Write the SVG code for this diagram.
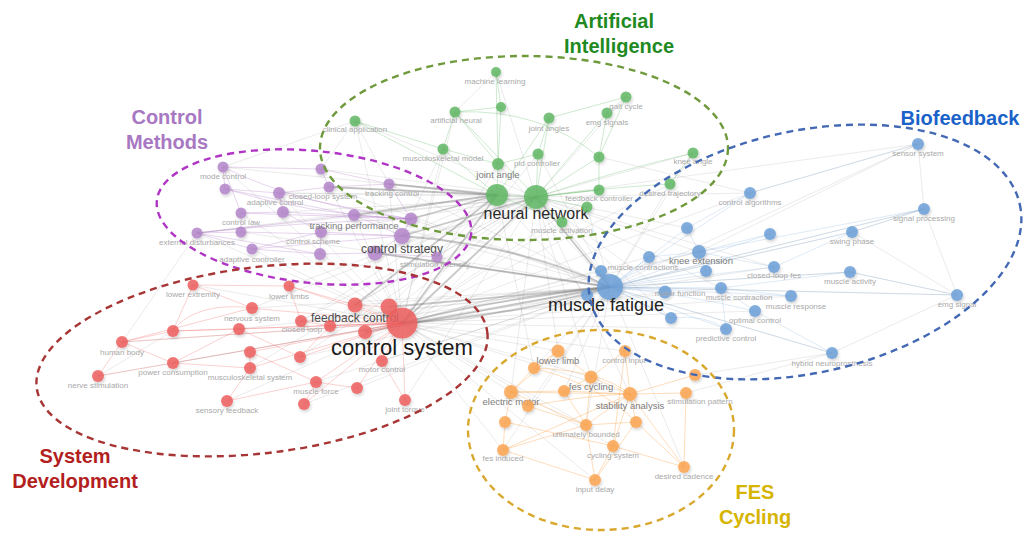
<svg xmlns="http://www.w3.org/2000/svg" width="1023" height="558" viewBox="0 0 1023 558">
<style>
  text { font-family: "Liberation Sans", Arial, sans-serif; text-anchor: middle; }
  .lb { font-size: 8px; fill: #a9a9a9; }
  .lm { font-size: 9.5px; fill: #7c7c7c; }
  .lc { font-size: 12px; fill: #4d4d4d; }
  .ct { font-size: 20px; font-weight: bold; }
  .e line, .e path { stroke: #8a8a8a; stroke-opacity: 0.17; stroke-width: 1; fill: none; }
  .es line, .es path { stroke: #6e6e6e; stroke-opacity: 0.38; stroke-width: 1.8; fill: none; }
  .cg line, .cg path { stroke: #66bb6a; stroke-opacity: 0.32; stroke-width: 1; fill: none; }
  .cp line, .cp path { stroke: #b07cc7; stroke-opacity: 0.32; stroke-width: 1; fill: none; }
  .cr line, .cr path { stroke: #ef5b5b; stroke-opacity: 0.28; stroke-width: 1; fill: none; }
  .cb line, .cb path { stroke: #6fa0d8; stroke-opacity: 0.22; stroke-width: 1; fill: none; }
  .co line, .co path { stroke: #fca54f; stroke-opacity: 0.38; stroke-width: 1; fill: none; }
  .ng { fill: #5fb763; }
  .np { fill: #b384c9; }
  .nr { fill: #ee5e5e; }
  .nb { fill: #6a9fd8; }
  .no { fill: #fca54f; }
  .node circle { fill-opacity: 0.84; filter: url(#sh); }
  .ring { fill: none; stroke-width: 2.4; stroke-dasharray: 7 5; }
</style>
<defs>
  <filter id="sh" x="-60%" y="-60%" width="220%" height="220%">
    <feDropShadow dx="1" dy="2" stdDeviation="1.6" flood-color="#000" flood-opacity="0.2"/>
  </filter>
</defs>
<rect width="1023" height="558" fill="#ffffff"/>

<g id="connectors">
  <!-- faint cross-cluster mesh -->
  <g class="e">
    <line x1="402" y1="323" x2="498" y2="164"/><line x1="402" y1="323" x2="455" y2="112"/>
    <line x1="402" y1="323" x2="538" y2="154"/><line x1="402" y1="323" x2="599" y2="190"/>
    <line x1="402" y1="323" x2="670" y2="184"/><line x1="402" y1="323" x2="699" y2="252"/>
    <line x1="402" y1="323" x2="601" y2="271"/><line x1="402" y1="323" x2="665" y2="292"/>
    <line x1="402" y1="323" x2="721" y2="288"/><line x1="402" y1="323" x2="726" y2="329"/>
    <line x1="402" y1="323" x2="750" y2="193"/><line x1="402" y1="323" x2="755" y2="311"/>
    <line x1="402" y1="323" x2="558" y2="351"/><line x1="402" y1="323" x2="591" y2="377"/>
    <line x1="402" y1="323" x2="511" y2="392"/><line x1="402" y1="323" x2="630" y2="394"/>
    <line x1="402" y1="323" x2="586" y2="425"/><line x1="402" y1="323" x2="613" y2="446"/>
    <line x1="402" y1="323" x2="625" y2="351"/><line x1="402" y1="323" x2="389" y2="184"/>
    <line x1="402" y1="323" x2="354" y2="215"/><line x1="402" y1="323" x2="279" y2="193"/>
    <line x1="402" y1="323" x2="329" y2="187"/><line x1="402" y1="323" x2="562" y2="222"/>
    <line x1="402" y1="323" x2="443" y2="149"/><line x1="402" y1="323" x2="649" y2="257"/>
    <line x1="402" y1="323" x2="774" y2="267"/><line x1="402" y1="323" x2="791" y2="296"/>
    <line x1="536" y1="197" x2="601" y2="271"/><line x1="536" y1="197" x2="699" y2="252"/>
    <line x1="536" y1="197" x2="687" y2="228"/><line x1="536" y1="197" x2="750" y2="193"/>
    <line x1="536" y1="197" x2="375" y2="253"/><line x1="536" y1="197" x2="354" y2="215"/>
    <line x1="536" y1="197" x2="389" y2="184"/><line x1="536" y1="197" x2="329" y2="187"/>
    <line x1="536" y1="197" x2="279" y2="193"/><line x1="536" y1="197" x2="355" y2="305"/>
    <line x1="536" y1="197" x2="301" y2="321"/><line x1="536" y1="197" x2="382" y2="361"/>
    <line x1="536" y1="197" x2="365" y2="332"/><line x1="536" y1="197" x2="558" y2="351"/>
    <line x1="536" y1="197" x2="591" y2="377"/><line x1="536" y1="197" x2="511" y2="392"/>
    <line x1="536" y1="197" x2="630" y2="394"/><line x1="536" y1="197" x2="671" y2="318"/>
    <line x1="536" y1="197" x2="665" y2="292"/><line x1="536" y1="197" x2="289" y2="286"/>
    <line x1="536" y1="197" x2="321" y2="232"/><line x1="536" y1="197" x2="300" y2="357"/>
    <line x1="536" y1="197" x2="721" y2="288"/><line x1="536" y1="197" x2="774" y2="267"/>
    <line x1="536" y1="197" x2="197" y2="233"/><line x1="536" y1="197" x2="252" y2="308"/>
    <line x1="610" y1="287" x2="375" y2="253"/><line x1="610" y1="287" x2="411" y2="219"/>
    <line x1="610" y1="287" x2="354" y2="215"/><line x1="610" y1="287" x2="355" y2="305"/>
    <line x1="610" y1="287" x2="301" y2="321"/><line x1="610" y1="287" x2="330" y2="326"/>
    <line x1="610" y1="287" x2="252" y2="308"/><line x1="610" y1="287" x2="239" y2="329"/>
    <line x1="610" y1="287" x2="534" y2="368"/><line x1="610" y1="287" x2="564" y2="391"/>
    <line x1="610" y1="287" x2="586" y2="425"/><line x1="610" y1="287" x2="528" y2="406"/>
    <line x1="610" y1="287" x2="498" y2="164"/><line x1="610" y1="287" x2="538" y2="154"/>
    <line x1="610" y1="287" x2="587" y2="207"/><line x1="610" y1="287" x2="562" y2="222"/>
    <line x1="610" y1="287" x2="670" y2="184"/><line x1="610" y1="287" x2="437" y2="257"/>
    <line x1="610" y1="287" x2="389" y2="184"/><line x1="610" y1="287" x2="357" y2="388"/>
    <line x1="610" y1="287" x2="918" y2="144"/><line x1="610" y1="287" x2="924" y2="209"/>
    <line x1="610" y1="287" x2="957" y2="295"/><line x1="610" y1="287" x2="832" y2="353"/>
    <line x1="610" y1="287" x2="329" y2="187"/><line x1="610" y1="287" x2="382" y2="361"/>
    <line x1="497" y1="195" x2="402" y2="236"/><line x1="497" y1="195" x2="389" y2="307"/>
    <line x1="497" y1="195" x2="279" y2="193"/><line x1="497" y1="195" x2="197" y2="233"/>
    <line x1="497" y1="195" x2="534" y2="368"/><line x1="497" y1="195" x2="587" y2="295"/>
    <line x1="497" y1="195" x2="223" y2="167"/><line x1="497" y1="195" x2="301" y2="321"/>
    <line x1="918" y1="144" x2="536" y2="197"/><line x1="918" y1="144" x2="750" y2="193"/>
    <line x1="924" y1="209" x2="852" y2="232"/><line x1="924" y1="209" x2="957" y2="295"/>
    <line x1="957" y1="295" x2="850" y2="272"/><line x1="957" y1="295" x2="852" y2="232"/>
    <line x1="918" y1="144" x2="924" y2="209"/><line x1="957" y1="295" x2="832" y2="353"/>
    <line x1="852" y1="232" x2="610" y2="287"/><line x1="850" y1="272" x2="610" y2="287"/>
    <line x1="832" y1="353" x2="695" y2="375"/><line x1="832" y1="353" x2="686" y2="393"/>
    <line x1="122" y1="342" x2="402" y2="323"/><line x1="98" y1="376" x2="402" y2="323"/>
    <line x1="193" y1="285" x2="402" y2="323"/><line x1="227" y1="401" x2="402" y2="323"/>
    <line x1="122" y1="342" x2="197" y2="233"/><line x1="98" y1="376" x2="173" y2="331"/>
    <line x1="355" y1="121" x2="321" y2="169"/><line x1="355" y1="121" x2="389" y2="184"/>
    <line x1="355" y1="121" x2="536" y2="197"/><line x1="496" y1="72" x2="536" y2="197"/>
    <line x1="496" y1="72" x2="455" y2="112"/><line x1="626" y1="97" x2="536" y2="197"/>
    <line x1="626" y1="97" x2="607" y2="113"/><line x1="693" y1="153" x2="610" y2="287"/>
    <line x1="693" y1="153" x2="670" y2="184"/><line x1="693" y1="153" x2="536" y2="197"/>
    <line x1="684" y1="467" x2="610" y2="287"/><line x1="595" y1="480" x2="402" y2="323"/>
    <line x1="503" y1="450" x2="402" y2="323"/><line x1="503" y1="450" x2="610" y2="287"/>
    <line x1="197" y1="233" x2="402" y2="323"/><line x1="223" y1="167" x2="402" y2="323"/>
    <line x1="241" y1="213" x2="402" y2="323"/><line x1="252" y1="249" x2="402" y2="323"/>
    <line x1="241" y1="232" x2="610" y2="287"/><line x1="283" y1="212" x2="536" y2="197"/>
    <line x1="321" y1="169" x2="536" y2="197"/><line x1="443" y1="149" x2="402" y2="236"/>
    <line x1="355" y1="121" x2="402" y2="323"/><line x1="304" y1="404" x2="610" y2="287"/>
    <line x1="405" y1="400" x2="536" y2="197"/><line x1="316" y1="382" x2="610" y2="287"/>
    <line x1="173" y1="363" x2="610" y2="287"/><line x1="250" y1="368" x2="536" y2="197"/>
    <line x1="300" y1="357" x2="610" y2="287"/><line x1="918" y1="144" x2="699" y2="252"/>
    <line x1="355" y1="121" x2="223" y2="167"/><line x1="599" y1="157" x2="750" y2="193"/>
  </g>
  <!-- heavier grey links between the hubs -->
  <g class="es">
    <path d="M402,323 Q500,298 610,287" stroke-width="2.6"/>
    <path d="M402,323 Q505,318 610,287" stroke-width="1.5"/>
    <line x1="402" y1="323" x2="536" y2="197" stroke-width="2"/>
    <line x1="389" y1="307" x2="610" y2="287"/>
    <line x1="355" y1="305" x2="497" y2="195"/>
    <path d="M402,236 Q520,245 610,287" stroke-width="2.2"/>
    <line x1="411" y1="219" x2="497" y2="195" stroke-width="2.2"/>
    <line x1="375" y1="253" x2="610" y2="287"/>
    <line x1="402" y1="236" x2="536" y2="197"/>
    <line x1="402" y1="323" x2="497" y2="195"/>
    <line x1="536" y1="197" x2="610" y2="287"/>
    <line x1="354" y1="215" x2="497" y2="195"/>
    <line x1="365" y1="332" x2="610" y2="287"/>
    <line x1="389" y1="184" x2="497" y2="195" stroke-width="1.2"/>
    <line x1="329" y1="187" x2="497" y2="195" stroke-width="1.2"/>
  </g>
  <!-- green cluster links -->
  <g class="cg">
    <line x1="496" y1="72" x2="501" y2="107"/><line x1="455" y1="112" x2="501" y2="107"/>
    <line x1="455" y1="112" x2="443" y2="149"/><line x1="501" y1="107" x2="498" y2="164"/>
    <line x1="355" y1="121" x2="443" y2="149"/><line x1="355" y1="121" x2="497" y2="195"/>
    <line x1="443" y1="149" x2="497" y2="195"/><line x1="443" y1="149" x2="498" y2="164"/>
    <line x1="498" y1="164" x2="538" y2="154"/><line x1="549" y1="118" x2="538" y2="154"/>
    <line x1="549" y1="118" x2="536" y2="197"/><line x1="607" y1="113" x2="599" y2="157"/>
    <line x1="626" y1="97" x2="599" y2="157"/><line x1="607" y1="113" x2="536" y2="197"/>
    <line x1="538" y1="154" x2="536" y2="197"/><line x1="599" y1="157" x2="536" y2="197"/>
    <line x1="599" y1="157" x2="599" y2="190"/><line x1="693" y1="153" x2="670" y2="184"/>
    <line x1="599" y1="190" x2="536" y2="197"/><line x1="587" y1="207" x2="536" y2="197"/>
    <line x1="562" y1="222" x2="536" y2="197"/><line x1="562" y1="222" x2="497" y2="195"/>
    <line x1="549" y1="118" x2="497" y2="195"/><line x1="496" y1="72" x2="498" y2="164"/>
    <line x1="626" y1="97" x2="549" y2="118"/><line x1="455" y1="112" x2="536" y2="197"/>
    <path d="M455,112 Q540,108 599,157" stroke-width="1.8" stroke-opacity="0.5"/>
    <path d="M536,197 Q620,170 693,153" stroke-width="1.3" stroke-opacity="0.45"/>
    <path d="M455,112 L498,164 L497,195" stroke-width="5" stroke-opacity="0.55"/>
    <line x1="497" y1="195" x2="536" y2="197" stroke-width="4" stroke-opacity="0.6"/>
    <path d="M536,197 Q600,188 670,184" stroke-width="2.4" stroke-opacity="0.55"/>
    <line x1="536" y1="197" x2="599" y2="190" stroke-width="2" stroke-opacity="0.5"/>
  </g>
  <!-- purple cluster links -->
  <g class="cp">
    <line x1="223" y1="167" x2="225" y2="189"/><line x1="223" y1="167" x2="321" y2="169"/>
    <line x1="223" y1="167" x2="241" y2="213"/><line x1="225" y1="189" x2="279" y2="193"/>
    <line x1="279" y1="193" x2="329" y2="187"/><line x1="279" y1="193" x2="283" y2="212"/>
    <line x1="321" y1="169" x2="329" y2="187"/><line x1="321" y1="169" x2="389" y2="184"/>
    <line x1="329" y1="187" x2="389" y2="184"/><line x1="283" y1="212" x2="241" y2="213"/>
    <line x1="283" y1="212" x2="321" y2="232"/><line x1="241" y1="213" x2="241" y2="232"/>
    <line x1="241" y1="232" x2="197" y2="233"/><line x1="197" y1="233" x2="252" y2="249"/>
    <line x1="252" y1="249" x2="321" y2="232"/><line x1="252" y1="249" x2="402" y2="236"/>
    <line x1="321" y1="232" x2="320" y2="254"/><line x1="321" y1="232" x2="402" y2="236"/>
    <line x1="320" y1="254" x2="375" y2="253"/><line x1="389" y1="184" x2="411" y2="219"/>
    <line x1="354" y1="215" x2="402" y2="236"/><line x1="411" y1="219" x2="402" y2="236"/>
    <line x1="402" y1="236" x2="375" y2="253"/><line x1="375" y1="253" x2="437" y2="257"/>
    <line x1="241" y1="232" x2="402" y2="236"/><line x1="225" y1="189" x2="354" y2="215"/>
    <line x1="241" y1="213" x2="411" y2="219"/><line x1="283" y1="212" x2="411" y2="219"/>
    <line x1="252" y1="249" x2="320" y2="254"/><line x1="197" y1="233" x2="320" y2="254"/>
    <path d="M223,167 Q300,205 411,219" stroke-width="3" stroke-opacity="0.5"/>
    <path d="M225,189 Q310,215 411,219" stroke-width="2.4" stroke-opacity="0.5"/>
    <path d="M279,193 Q345,208 411,219" stroke-width="2" stroke-opacity="0.45"/>
    <path d="M197,233 Q300,222 411,219" stroke-width="1.8" stroke-opacity="0.45"/>
    <line x1="197" y1="233" x2="354" y2="215" stroke-width="1.4" stroke-opacity="0.45"/>
    <line x1="354" y1="215" x2="411" y2="219" stroke-width="2.5" stroke-opacity="0.5"/>
  </g>
  <!-- red cluster links -->
  <g class="cr">
    <line x1="193" y1="285" x2="252" y2="308"/><line x1="193" y1="285" x2="173" y2="331"/>
    <line x1="289" y1="286" x2="402" y2="323"/><line x1="289" y1="286" x2="301" y2="321"/>
    <line x1="301" y1="321" x2="402" y2="323"/><line x1="122" y1="342" x2="173" y2="331"/>
    <line x1="122" y1="342" x2="252" y2="308"/><line x1="122" y1="342" x2="173" y2="363"/>
    <line x1="250" y1="352" x2="402" y2="323"/><line x1="300" y1="357" x2="402" y2="323"/>
    <line x1="173" y1="363" x2="402" y2="323"/><line x1="250" y1="368" x2="402" y2="323"/>
    <line x1="98" y1="376" x2="122" y2="342"/><line x1="98" y1="376" x2="173" y2="363"/>
    <line x1="227" y1="401" x2="250" y2="368"/><line x1="227" y1="401" x2="316" y2="382"/>
    <line x1="355" y1="305" x2="402" y2="323"/><line x1="389" y1="307" x2="402" y2="323"/>
    <line x1="330" y1="326" x2="402" y2="323"/><line x1="365" y1="332" x2="402" y2="323"/>
    <line x1="382" y1="361" x2="402" y2="323"/><line x1="316" y1="382" x2="402" y2="323"/>
    <line x1="357" y1="388" x2="402" y2="323"/><line x1="304" y1="404" x2="316" y2="382"/>
    <line x1="405" y1="400" x2="402" y2="323"/><line x1="173" y1="331" x2="239" y2="329"/>
    <line x1="250" y1="352" x2="250" y2="368"/><line x1="300" y1="357" x2="330" y2="326"/>
    <line x1="316" y1="382" x2="357" y2="388"/><line x1="301" y1="321" x2="330" y2="326"/>
    <line x1="173" y1="363" x2="250" y2="368"/><line x1="122" y1="342" x2="402" y2="323"/>
    <line x1="304" y1="404" x2="402" y2="323"/><line x1="405" y1="400" x2="382" y2="361"/>
    <line x1="173" y1="331" x2="402" y2="323"/><line x1="289" y1="286" x2="355" y2="305"/>
    <line x1="193" y1="285" x2="289" y2="286"/><line x1="239" y1="329" x2="300" y2="357"/>
    <line x1="250" y1="352" x2="316" y2="382"/><line x1="173" y1="363" x2="239" y2="329"/>
    <path d="M173,331 C188,309 222,304 252,308 S360,316 402,323" stroke-width="3.2" stroke-opacity="0.5"/>
    <line x1="239" y1="329" x2="402" y2="323" stroke-width="2.2" stroke-opacity="0.5"/>
    <line x1="355" y1="305" x2="389" y2="307" stroke-width="2" stroke-opacity="0.5"/>
  </g>
  <!-- blue cluster links -->
  <g class="cb">
    <line x1="918" y1="144" x2="750" y2="193"/><line x1="924" y1="209" x2="610" y2="287"/>
    <line x1="750" y1="193" x2="687" y2="228"/><line x1="750" y1="193" x2="610" y2="287"/>
    <line x1="687" y1="228" x2="699" y2="252"/><line x1="687" y1="228" x2="610" y2="287"/>
    <line x1="770" y1="234" x2="610" y2="287"/><line x1="770" y1="234" x2="699" y2="252"/>
    <line x1="852" y1="232" x2="610" y2="287"/><line x1="852" y1="232" x2="774" y2="267"/>
    <line x1="699" y1="252" x2="649" y2="257"/><line x1="699" y1="252" x2="706" y2="271"/>
    <line x1="649" y1="257" x2="610" y2="287"/><line x1="601" y1="271" x2="610" y2="287"/>
    <line x1="706" y1="271" x2="610" y2="287"/><line x1="774" y1="267" x2="699" y2="252"/>
    <line x1="850" y1="272" x2="610" y2="287"/><line x1="850" y1="272" x2="721" y2="288"/>
    <line x1="587" y1="295" x2="610" y2="287"/><line x1="665" y1="292" x2="610" y2="287"/>
    <line x1="791" y1="296" x2="610" y2="287"/><line x1="791" y1="296" x2="721" y2="288"/>
    <line x1="957" y1="295" x2="610" y2="287"/><line x1="957" y1="295" x2="850" y2="272"/>
    <line x1="755" y1="311" x2="721" y2="288"/><line x1="671" y1="318" x2="610" y2="287"/>
    <line x1="726" y1="329" x2="610" y2="287"/><line x1="832" y1="353" x2="610" y2="287"/>
    <line x1="832" y1="353" x2="755" y2="311"/><line x1="726" y1="329" x2="721" y2="288"/>
    <line x1="924" y1="209" x2="852" y2="232"/><line x1="924" y1="209" x2="699" y2="252"/>
    <path d="M610,287 Q650,260 699,252" stroke-width="2.6" stroke-opacity="0.55"/>
    <path d="M671,318 Q705,314 726,329" stroke-width="3" stroke-opacity="0.6"/>
    <line x1="610" y1="287" x2="721" y2="288" stroke-width="2" stroke-opacity="0.5"/>
    <path d="M610,287 Q690,295 755,311" stroke-width="1.5" stroke-opacity="0.45"/>
    <line x1="610" y1="287" x2="774" y2="267" stroke-width="1.5" stroke-opacity="0.4"/>
    <line x1="610" y1="287" x2="671" y2="318" stroke-width="1.5" stroke-opacity="0.4"/>
  </g>
  <!-- orange cluster links -->
  <g class="co">
    <line x1="558" y1="351" x2="534" y2="368"/><line x1="558" y1="351" x2="591" y2="377"/>
    <line x1="625" y1="351" x2="591" y2="377"/><line x1="625" y1="351" x2="630" y2="394"/>
    <line x1="534" y1="368" x2="511" y2="392"/><line x1="591" y1="377" x2="630" y2="394"/>
    <line x1="591" y1="377" x2="564" y2="391"/><line x1="511" y1="392" x2="564" y2="391"/>
    <line x1="511" y1="392" x2="528" y2="406"/><line x1="511" y1="392" x2="505" y2="422"/>
    <line x1="511" y1="392" x2="586" y2="425"/><line x1="564" y1="391" x2="630" y2="394"/>
    <line x1="564" y1="391" x2="586" y2="425"/><line x1="630" y1="394" x2="586" y2="425"/>
    <line x1="630" y1="394" x2="636" y2="422"/><line x1="630" y1="394" x2="613" y2="446"/>
    <line x1="630" y1="394" x2="684" y2="467"/><line x1="686" y1="393" x2="630" y2="394"/>
    <line x1="686" y1="393" x2="684" y2="467"/><line x1="695" y1="375" x2="630" y2="394"/>
    <line x1="528" y1="406" x2="586" y2="425"/><line x1="505" y1="422" x2="503" y2="450"/>
    <line x1="505" y1="422" x2="613" y2="446"/><line x1="586" y1="425" x2="636" y2="422"/>
    <line x1="586" y1="425" x2="595" y2="480"/><line x1="636" y1="422" x2="684" y2="467"/>
    <line x1="613" y1="446" x2="595" y2="480"/><line x1="503" y1="450" x2="595" y2="480"/>
    <line x1="503" y1="450" x2="586" y2="425"/><line x1="595" y1="480" x2="636" y2="422"/>
    <line x1="684" y1="467" x2="613" y2="446"/><line x1="558" y1="351" x2="511" y2="392"/>
    <line x1="503" y1="450" x2="630" y2="394"/><line x1="625" y1="351" x2="613" y2="446"/>
    <path d="M534,368 Q600,370 630,394" stroke-opacity="0.5"/>
    <path d="M534,368 Q600,385 636,422"/>
    <path d="M528,406 Q590,395 630,394"/>
    <line x1="511" y1="392" x2="630" y2="394" stroke-width="2.2" stroke-opacity="0.6"/>
    <line x1="591" y1="377" x2="586" y2="425" stroke-width="1.4" stroke-opacity="0.5"/>
  </g>
</g>

<!-- Artificial Intelligence keywords -->
<g id="n-machine-learning" class="node"><circle class="ng" cx="496" cy="72" r="5"/><text class="lb" x="495" y="84">machine learning</text></g>
<g id="n-artificial-neural" class="node"><circle class="ng" cx="455" cy="112" r="5.5"/><text class="lb" x="456" y="123">artificial neural</text></g>
<g id="n-g3" class="node"><circle class="ng" cx="501" cy="107" r="5"/></g>
<g id="n-clinical-application" class="node"><circle class="ng" cx="355" cy="121" r="5.5"/><text class="lb" x="355" y="132">clinical application</text></g>
<g id="n-musculoskeletal-model" class="node"><circle class="ng" cx="443" cy="149" r="5.5"/><text class="lb" x="443" y="161">musculoskeletal model</text></g>
<g id="n-joint-angle" class="node"><circle class="ng" cx="498" cy="164" r="6"/><text class="lm" x="498" y="178">joint angle</text></g>
<g id="n-joint-angles" class="node"><circle class="ng" cx="549" cy="118" r="5.5"/><text class="lb" x="549" y="131">joint angles</text></g>
<g id="n-emg-signals" class="node"><circle class="ng" cx="607" cy="113" r="5.5"/><text class="lb" x="607" y="125">emg signals</text></g>
<g id="n-gait-cycle" class="node"><circle class="ng" cx="626" cy="97" r="5.5"/><text class="lb" x="626" y="109">gait cycle</text></g>
<g id="n-pid-controller" class="node"><circle class="ng" cx="538" cy="154" r="5.5"/><text class="lb" x="537" y="166">pid controller</text></g>
<g id="n-g11" class="node"><circle class="ng" cx="599" cy="157" r="5.5"/></g>
<g id="n-knee-angle" class="node"><circle class="ng" cx="693" cy="153" r="5.5"/><text class="lb" x="693" y="164">knee angle</text></g>
<g id="n-desired-trajectory" class="node"><circle class="ng" cx="670" cy="184" r="5.5"/><text class="lb" x="670" y="196">desired trajectory</text></g>
<g id="n-feedback-controller" class="node"><circle class="ng" cx="599" cy="190" r="5.5"/><text class="lb" x="599" y="201">feedback controller</text></g>
<g id="n-g15" class="node"><circle class="ng" cx="497" cy="195" r="11"/></g>
<g id="n-neural-network" class="node"><circle class="ng" cx="536" cy="197" r="12"/><text x="536" y="219" font-size="16" fill="#2a2a2a">neural network</text></g>
<g id="n-g17" class="node"><circle class="ng" cx="587" cy="207" r="5.5"/></g>
<g id="n-muscle-activation" class="node"><circle class="ng" cx="562" cy="222" r="5.5"/><text class="lb" x="562" y="233">muscle activation</text></g>

<!-- Control Methods keywords -->
<g id="n-mode-control" class="node"><circle class="np" cx="223" cy="167" r="5.5"/><text class="lb" x="223" y="179">mode control</text></g>
<g id="n-p2" class="node"><circle class="np" cx="225" cy="189" r="5.5"/></g>
<g id="n-adaptive-control" class="node"><circle class="np" cx="279" cy="193" r="6"/><text class="lb" x="275" y="205">adaptive control</text></g>
<g id="n-p4" class="node"><circle class="np" cx="321" cy="169" r="5.5"/></g>
<g id="n-closed-loop-system" class="node"><circle class="np" cx="329" cy="187" r="5.5"/><text class="lb" x="323" y="199">closed-loop system</text></g>
<g id="n-p6" class="node"><circle class="np" cx="283" cy="212" r="6"/></g>
<g id="n-control-law" class="node"><circle class="np" cx="241" cy="213" r="5.5"/><text class="lb" x="241" y="225">control law</text></g>
<g id="n-p8" class="node"><circle class="np" cx="241" cy="232" r="5.5"/></g>
<g id="n-external-disturbances" class="node"><circle class="np" cx="197" cy="233" r="5.5"/><text class="lb" x="197" y="245">external disturbances</text></g>
<g id="n-adaptive-controller" class="node"><circle class="np" cx="252" cy="249" r="5.5"/><text class="lb" x="252" y="262">adaptive controller</text></g>
<g id="n-control-scheme" class="node"><circle class="np" cx="321" cy="232" r="6"/><text class="lb" x="313" y="244">control scheme</text></g>
<g id="n-p12" class="node"><circle class="np" cx="320" cy="254" r="6"/></g>
<g id="n-tracking-control" class="node"><circle class="np" cx="389" cy="184" r="5.5"/><text class="lb" x="392" y="196">tracking control</text></g>
<g id="n-tracking-performance" class="node"><circle class="np" cx="354" cy="215" r="6"/><text class="lm" x="354" y="229">tracking performance</text></g>
<g id="n-p15" class="node"><circle class="np" cx="411" cy="219" r="6.5"/></g>
<g id="n-p16" class="node"><circle class="np" cx="402" cy="236" r="8"/></g>
<g id="n-control-strategy" class="node"><circle class="np" cx="375" cy="253" r="7.5"/><text class="lc" x="402" y="253">control strategy</text></g>
<g id="n-stimulation-intensity" class="node"><circle class="np" cx="437" cy="257" r="5.5"/><text class="lb" x="435" y="267">stimulation intensity</text></g>

<!-- System Development keywords -->
<g id="n-lower-extremity" class="node"><circle class="nr" cx="193" cy="285" r="5.5"/><text class="lb" x="193" y="297">lower extremity</text></g>
<g id="n-lower-limbs" class="node"><circle class="nr" cx="289" cy="286" r="5.5"/><text class="lb" x="289" y="299">lower limbs</text></g>
<g id="n-nervous-system" class="node"><circle class="nr" cx="252" cy="308" r="6"/><text class="lb" x="252" y="321">nervous system</text></g>
<g id="n-r4" class="node"><circle class="nr" cx="173" cy="331" r="6"/></g>
<g id="n-r5" class="node"><circle class="nr" cx="239" cy="329" r="6"/></g>
<g id="n-closed-loop" class="node"><circle class="nr" cx="301" cy="321" r="6"/><text class="lb" x="302" y="332">closed loop</text></g>
<g id="n-human-body" class="node"><circle class="nr" cx="122" cy="342" r="6"/><text class="lb" x="122" y="355">human body</text></g>
<g id="n-r8" class="node"><circle class="nr" cx="250" cy="352" r="6"/></g>
<g id="n-r9" class="node"><circle class="nr" cx="300" cy="357" r="6"/></g>
<g id="n-power-consumption" class="node"><circle class="nr" cx="173" cy="363" r="6"/><text class="lb" x="173" y="375">power consumption</text></g>
<g id="n-musculoskeletal-system" class="node"><circle class="nr" cx="250" cy="368" r="6"/><text class="lb" x="250" y="380">musculoskeletal system</text></g>
<g id="n-nerve-stimulation" class="node"><circle class="nr" cx="98" cy="376" r="6"/><text class="lb" x="98" y="388">nerve stimulation</text></g>
<g id="n-sensory-feedback" class="node"><circle class="nr" cx="227" cy="401" r="6"/><text class="lb" x="227" y="413">sensory feedback</text></g>
<g id="n-r14" class="node"><circle class="nr" cx="355" cy="305" r="7.5"/></g>
<g id="n-feedback-control" class="node"><circle class="nr" cx="389" cy="307" r="8.5"/><text class="lc" x="355" y="322" font-size="11.5">feedback control</text></g>
<g id="n-control-system" class="node"><circle class="nr" cx="402" cy="323" r="15.5"/><text x="402" y="355" font-size="22" fill="#1a1a1a">control system</text></g>
<g id="n-r17" class="node"><circle class="nr" cx="330" cy="326" r="6"/></g>
<g id="n-r18" class="node"><circle class="nr" cx="365" cy="332" r="7"/></g>
<g id="n-motor-control" class="node"><circle class="nr" cx="382" cy="361" r="6"/><text class="lb" x="382" y="372">motor control</text></g>
<g id="n-muscle-force" class="node"><circle class="nr" cx="316" cy="382" r="6"/><text class="lb" x="316" y="394">muscle force</text></g>
<g id="n-r21" class="node"><circle class="nr" cx="357" cy="388" r="6"/></g>
<g id="n-r22" class="node"><circle class="nr" cx="304" cy="404" r="6"/></g>
<g id="n-joint-torque" class="node"><circle class="nr" cx="405" cy="400" r="6"/><text class="lb" x="405" y="412">joint torque</text></g>

<!-- Biofeedback keywords -->
<g id="n-sensor-system" class="node"><circle class="nb" cx="918" cy="144" r="6"/><text class="lb" x="918" y="156">sensor system</text></g>
<g id="n-signal-processing" class="node"><circle class="nb" cx="924" cy="209" r="6"/><text class="lb" x="924" y="221">signal processing</text></g>
<g id="n-control-algorithms" class="node"><circle class="nb" cx="750" cy="193" r="6"/><text class="lb" x="750" y="205">control algorithms</text></g>
<g id="n-b4" class="node"><circle class="nb" cx="687" cy="228" r="6"/></g>
<g id="n-b5" class="node"><circle class="nb" cx="770" cy="234" r="6"/></g>
<g id="n-swing-phase" class="node"><circle class="nb" cx="852" cy="232" r="6"/><text class="lb" x="852" y="244">swing phase</text></g>
<g id="n-knee-extension" class="node"><circle class="nb" cx="699" cy="252" r="7"/><text class="lm" x="701" y="264" font-size="9.3">knee extension</text></g>
<g id="n-b8" class="node"><circle class="nb" cx="649" cy="257" r="6"/></g>
<g id="n-muscle-contractions" class="node"><circle class="nb" cx="601" cy="271" r="6"/><text class="lb" x="643" y="270" font-size="8.3">muscle contractions</text></g>
<g id="n-b10" class="node"><circle class="nb" cx="706" cy="271" r="6"/></g>
<g id="n-closed-loop-fes" class="node"><circle class="nb" cx="774" cy="267" r="6"/><text class="lb" x="774" y="278">closed-loop fes</text></g>
<g id="n-muscle-activity" class="node"><circle class="nb" cx="850" cy="272" r="6"/><text class="lb" x="850" y="284">muscle activity</text></g>
<g id="n-b14" class="node"><circle class="nb" cx="587" cy="295" r="6"/></g>
<g id="n-motor-function" class="node"><circle class="nb" cx="665" cy="292" r="6.5"/><text class="lb" x="680" y="296" font-size="7">motor function</text></g>
<g id="n-muscle-contraction" class="node"><circle class="nb" cx="721" cy="288" r="6"/><text class="lb" x="739" y="300" font-size="8.5">muscle contraction</text></g>
<g id="n-muscle-response" class="node"><circle class="nb" cx="791" cy="296" r="6"/><text class="lb" x="796" y="309">muscle response</text></g>
<g id="n-emg-signal" class="node"><circle class="nb" cx="957" cy="295" r="6"/><text class="lb" x="957" y="307">emg signal</text></g>
<g id="n-optimal-control" class="node"><circle class="nb" cx="755" cy="311" r="6"/><text class="lb" x="755" y="323">optimal control</text></g>
<g id="n-b20" class="node"><circle class="nb" cx="671" cy="318" r="6"/></g>
<g id="n-predictive-control" class="node"><circle class="nb" cx="726" cy="329" r="6"/><text class="lb" x="726" y="341">predictive control</text></g>
<g id="n-hybrid-neuroprosthesis" class="node"><circle class="nb" cx="832" cy="353" r="6"/><text class="lb" x="832" y="366">hybrid neuroprosthesis</text></g>
<g id="n-muscle-fatigue" class="node"><circle class="nb" cx="610" cy="287" r="13"/><text x="606" y="311" font-size="18" fill="#222">muscle fatigue</text></g>

<!-- FES Cycling keywords -->
<g id="n-lower-limb" class="node"><circle class="no" cx="558" cy="351" r="6.5"/><text class="lm" x="558" y="364" font-size="9.3">lower limb</text></g>
<g id="n-control-input" class="node"><circle class="no" cx="625" cy="351" r="6"/><text class="lb" x="624" y="363">control input</text></g>
<g id="n-o3" class="node"><circle class="no" cx="534" cy="368" r="6"/></g>
<g id="n-fes-cycling" class="node"><circle class="no" cx="591" cy="377" r="6.5"/><text class="lm" x="591" y="390" font-size="8.7">fes cycling</text></g>
<g id="n-o5" class="node"><circle class="no" cx="695" cy="375" r="6"/></g>
<g id="n-electric-motor" class="node"><circle class="no" cx="511" cy="392" r="7"/><text class="lm" x="511" y="405">electric motor</text></g>
<g id="n-o7" class="node"><circle class="no" cx="564" cy="391" r="6"/></g>
<g id="n-stability-analysis" class="node"><circle class="no" cx="630" cy="394" r="7"/><text class="lm" x="630" y="409">stability analysis</text></g>
<g id="n-stimulation-pattern" class="node"><circle class="no" cx="686" cy="393" r="6"/><text class="lb" x="700" y="404">stimulation pattern</text></g>
<g id="n-o10" class="node"><circle class="no" cx="528" cy="406" r="6"/></g>
<g id="n-o11" class="node"><circle class="no" cx="505" cy="422" r="6"/></g>
<g id="n-ultimately-bounded" class="node"><circle class="no" cx="586" cy="425" r="6"/><text class="lb" x="586" y="437">ultimately bounded</text></g>
<g id="n-o13" class="node"><circle class="no" cx="636" cy="422" r="6"/></g>
<g id="n-cycling-system" class="node"><circle class="no" cx="613" cy="446" r="6"/><text class="lb" x="613" y="458">cycling system</text></g>
<g id="n-fes-induced" class="node"><circle class="no" cx="503" cy="450" r="6"/><text class="lb" x="503" y="461">fes induced</text></g>
<g id="n-input-delay" class="node"><circle class="no" cx="595" cy="480" r="6"/><text class="lb" x="595" y="492">input delay</text></g>
<g id="n-desired-cadence" class="node"><circle class="no" cx="684" cy="467" r="6"/><text class="lb" x="684" y="479">desired cadence</text></g>

<!-- cluster boundaries and titles -->
<g id="clusters">
  <ellipse class="ring" cx="524" cy="148" rx="204" ry="92" stroke="#6f9a3c"/>
  <ellipse class="ring" cx="314" cy="217" rx="158" ry="66" transform="rotate(6 314 217)" stroke="#b035c4"/>
  <ellipse class="ring" cx="805" cy="252" rx="220" ry="121" transform="rotate(-12.5 805 252)" stroke="#4469b4"/>
  <ellipse class="ring" cx="262" cy="360" rx="227" ry="93" transform="rotate(-7 262 360)" stroke="#a83535"/>
  <ellipse class="ring" cx="601" cy="430" rx="133" ry="100" stroke="#d9a82e"/>
  <text class="ct" fill="#1f8a1f" x="614" y="28">Artificial</text>
  <text class="ct" fill="#1f8a1f" x="619" y="53">Intelligence</text>
  <text class="ct" fill="#a878c2" x="167" y="124">Control</text>
  <text class="ct" fill="#a878c2" x="167" y="149">Methods</text>
  <text class="ct" fill="#1a62c8" x="960" y="125">Biofeedback</text>
  <text class="ct" fill="#b31e1e" x="75" y="463">System</text>
  <text class="ct" fill="#b31e1e" x="75" y="488">Development</text>
  <text class="ct" fill="#d6b400" x="755" y="499">FES</text>
  <text class="ct" fill="#d6b400" x="755" y="524">Cycling</text>
</g>
</svg>
